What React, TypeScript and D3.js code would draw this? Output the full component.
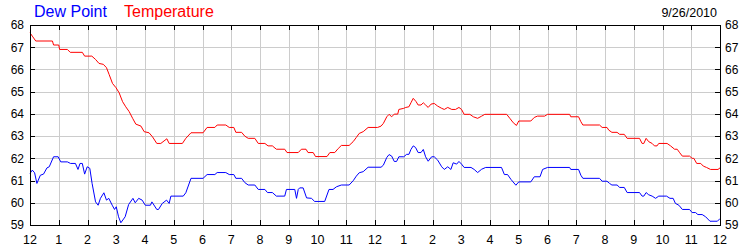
import React from "react";
import * as d3 from "d3";

const hourLabels = ["12","1","2","3","4","5","6","7","8","9","10","11","12","1","2","3","4","5","6","7","8","9","10","11","12"];
const degreeTicks = [59, 60, 61, 62, 63, 64, 65, 66, 67, 68];
const dateLabel = "9/26/2010";
const seriesNames = ["Dew Point", "Temperature"];

const tempHours = [0,0.08,0.2,0.78,0.82,1.0,1.03,1.3,1.4,1.82,1.9,2.15,2.28,2.4,2.55,2.66,2.75,2.87,2.99,3.1,3.22,3.33,3.45,3.57,3.68,3.86,3.97,4.14,4.26,4.41,4.55,4.76,4.84,5.3,5.42,5.6,6.02,6.16,6.43,6.51,6.81,6.93,7.09,7.16,7.36,7.47,7.59,7.82,7.94,8.17,8.28,8.43,8.57,8.86,8.94,9.33,9.44,9.6,9.67,9.85,9.93,10.33,10.43,10.6,10.72,10.83,11.1,11.24,11.35,11.45,11.59,11.76,12.09,12.21,12.29,12.41,12.49,12.58,12.67,12.79,12.83,13.0,13.07,13.18,13.25,13.33,13.43,13.5,13.6,13.68,13.76,13.85,13.95,14.06,14.18,14.32,14.41,14.53,14.67,14.8,14.92,15.01,15.1,15.3,15.42,15.57,15.71,15.82,16.58,16.69,16.81,16.92,17.0,17.42,17.54,17.65,17.9,18.0,18.77,18.81,19.08,19.16,19.23,19.81,19.9,20.07,20.13,20.24,20.42,20.51,20.67,20.77,21.2,21.29,21.35,21.43,21.52,21.64,21.72,21.81,21.87,22.16,22.28,22.42,22.51,22.6,22.69,22.94,23.03,23.09,23.19,23.33,23.42,23.53,23.67,23.93,24.0];
const tempValues = [67.65,67.5,67.28,67.28,67.1,67.1,66.9,66.9,66.77,66.77,66.6,66.6,66.45,66.27,66.23,66.08,65.78,65.37,65.18,64.95,64.55,64.32,64.1,63.8,63.54,63.45,63.2,63.15,62.97,62.67,62.67,62.88,62.67,62.67,62.9,63.15,63.15,63.39,63.39,63.5,63.5,63.39,63.39,63.17,63.17,63.0,62.9,62.9,62.67,62.67,62.56,62.56,62.41,62.41,62.26,62.26,62.41,62.41,62.26,62.26,62.08,62.08,62.26,62.26,62.44,62.58,62.58,62.75,62.94,63.12,63.2,63.39,63.39,63.45,63.57,63.87,63.98,63.87,63.99,63.99,64.2,64.25,64.29,64.32,64.5,64.7,64.55,64.4,64.4,64.5,64.4,64.29,64.44,64.47,64.35,64.25,64.2,64.29,64.2,64.2,64.29,64.2,63.98,63.98,63.87,63.8,63.9,63.98,63.98,63.8,63.6,63.48,63.68,63.68,63.84,63.9,63.9,63.98,63.98,63.87,63.87,63.65,63.5,63.5,63.39,63.39,63.27,63.17,63.17,63.08,63.08,62.9,62.9,62.67,62.67,62.9,62.75,62.67,62.56,62.56,62.67,62.67,62.56,62.41,62.41,62.25,62.1,62.1,62.0,62.0,61.77,61.77,61.65,61.59,61.5,61.5,61.57];

const dewHours = [0,0.08,0.16,0.24,0.36,0.47,0.59,0.67,0.82,0.98,1.07,1.3,1.41,1.58,1.67,1.74,1.82,1.9,1.99,2.08,2.16,2.28,2.37,2.45,2.57,2.66,2.74,2.86,2.94,3.0,3.08,3.16,3.31,3.43,3.58,3.66,3.78,3.9,4.01,4.19,4.24,4.41,4.47,4.6,4.75,4.84,4.9,5.33,5.42,5.6,6.02,6.16,6.43,6.51,6.81,6.93,7.09,7.16,7.36,7.47,7.59,7.82,7.94,8.17,8.26,8.43,8.57,8.86,8.92,9.21,9.27,9.33,9.38,9.5,9.62,9.79,9.9,10.25,10.4,10.54,10.66,10.83,11.1,11.24,11.35,11.45,11.59,11.76,12.21,12.29,12.41,12.49,12.58,12.67,12.75,12.83,13.0,13.1,13.18,13.25,13.33,13.41,13.5,13.6,13.68,13.76,13.85,13.97,14.06,14.18,14.32,14.41,14.53,14.64,14.72,14.84,14.92,15.01,15.1,15.34,15.45,15.57,15.71,15.85,16.4,16.5,16.61,16.73,16.9,17.0,17.42,17.54,17.74,17.83,18.0,18.77,18.81,19.08,19.16,19.23,19.81,19.9,20.07,20.16,20.24,20.42,20.51,20.67,20.77,21.2,21.29,21.35,21.43,21.52,21.64,21.76,21.87,22.14,22.26,22.37,22.45,22.57,22.69,22.94,23.03,23.15,23.23,23.38,23.5,23.65,23.91,24.0];
const dewValues = [61.32,61.47,61.35,60.87,61.24,61.29,61.57,61.62,62.07,62.07,61.84,61.84,61.77,61.77,61.5,61.77,61.77,61.29,61.62,61.55,60.87,60.04,59.89,60.2,60.45,60.12,60.2,59.89,59.7,59.82,59.37,59.1,59.37,59.92,60.2,60.0,60.2,60.12,59.89,59.89,60.04,59.7,59.7,59.97,60.12,59.97,60.3,60.3,60.45,61.1,61.1,61.27,61.27,61.36,61.36,61.27,61.27,61.1,61.1,60.91,60.8,60.8,60.6,60.6,60.46,60.46,60.3,60.3,60.6,60.6,60.2,60.6,60.67,60.67,60.22,60.2,60.06,60.06,60.6,60.6,60.72,60.8,60.8,60.99,61.2,61.35,61.4,61.6,61.6,61.69,62.04,62.17,62.1,61.86,61.86,62.07,62.07,62.18,62.18,62.4,62.56,62.49,62.26,62.26,62.4,62.07,61.87,62.07,62.07,61.92,61.62,61.5,61.62,61.5,61.8,61.74,61.86,61.74,61.59,61.59,61.5,61.36,61.51,61.59,61.59,61.27,61.27,61.05,60.79,60.94,60.94,61.17,61.17,61.5,61.59,61.59,61.5,61.5,61.24,61.1,61.1,60.97,60.97,60.87,60.8,60.8,60.69,60.69,60.46,60.46,60.3,60.3,60.46,60.36,60.3,60.2,60.3,60.3,60.2,60.2,59.97,59.89,59.7,59.7,59.56,59.56,59.47,59.47,59.37,59.17,59.17,59.29];

const W = 750, H = 250;
const L = 30, R = 720, T = 25, B = 225;
const FONT = "Arial, 'Liberation Sans', sans-serif";

export default function App() {
  const x = d3.scaleLinear().domain([0, 24]).range([L, R]);
  const y = d3.scaleLinear().domain([59, 68]).range([B, T]);
  const line = d3.line<[number, number]>().x(d => x(d[0])).y(d => y(d[1]));
  const temp = tempHours.map((h, i) => [h, tempValues[i]] as [number, number]);
  const dew = dewHours.map((h, i) => [h, dewValues[i]] as [number, number]);
  const px = (v: number) => Math.round(v) + 0.5;
  const hours = hourLabels.map((_, i) => i);

  return (
    <svg width={W} height={H} style={{ position: "absolute", left: 0, top: 0, display: "block", background: "#fff" }} fontFamily={FONT}>
      <rect x={0} y={0} width={W} height={H} fill="#fff" />
      <g stroke="#cccccc" strokeWidth={1} shapeRendering="crispEdges">
        {hours.slice(1, -1).map(h => (
          <line key={"v" + h} x1={px(x(h))} x2={px(x(h))} y1={T} y2={B} />
        ))}
        {degreeTicks.slice(1, -1).map(v => (
          <line key={"h" + v} x1={L} x2={R} y1={px(y(v))} y2={px(y(v))} />
        ))}
      </g>
      <g stroke="#000" strokeWidth={1} shapeRendering="crispEdges">
        {hours.slice(1, -1).map(h => (
          <g key={"t" + h}>
            <line x1={px(x(h))} x2={px(x(h))} y1={T} y2={T + 5} />
            <line x1={px(x(h))} x2={px(x(h))} y1={B - 5} y2={B} />
          </g>
        ))}
        {degreeTicks.slice(1, -1).map(v => (
          <g key={"yt" + v}>
            <line x1={L} x2={L + 5} y1={px(y(v))} y2={px(y(v))} />
            <line x1={R - 5} x2={R} y1={px(y(v))} y2={px(y(v))} />
          </g>
        ))}
      </g>
      <path d={line(dew) || ""} fill="none" stroke="#0000ff" strokeWidth={1} />
      <path d={line(temp) || ""} fill="none" stroke="#ff0000" strokeWidth={1} />
      <rect x={L + 0.5} y={T + 0.5} width={R - L} height={B - T} fill="none" stroke="#000" strokeWidth={1} shapeRendering="crispEdges" />
      <g fontSize={12} fill="#000">
        {degreeTicks.map(v => (
          <text key={"yl" + v} x={24} y={y(v) + 4.3} textAnchor="end">{v}</text>
        ))}
        {degreeTicks.map(v => (
          <text key={"yr" + v} x={725} y={y(v) + 4.3} textAnchor="start">{v}</text>
        ))}
      </g>
      <g fontSize={12.5} fill="#000">
        {hourLabels.map((lab, i) => (
          <text key={"xl" + i} x={x(i)} y={244} textAnchor="middle">{lab}</text>
        ))}
      </g>
      <text x={34} y={17} fontSize={16} fill="#0000ff">{seriesNames[0]}</text>
      <text x={124} y={17} fontSize={16} fill="#ff0000">{seriesNames[1]}</text>
      <text x={717} y={17} fontSize={12.5} fill="#000" textAnchor="end">{dateLabel}</text>
    </svg>
  );
}
